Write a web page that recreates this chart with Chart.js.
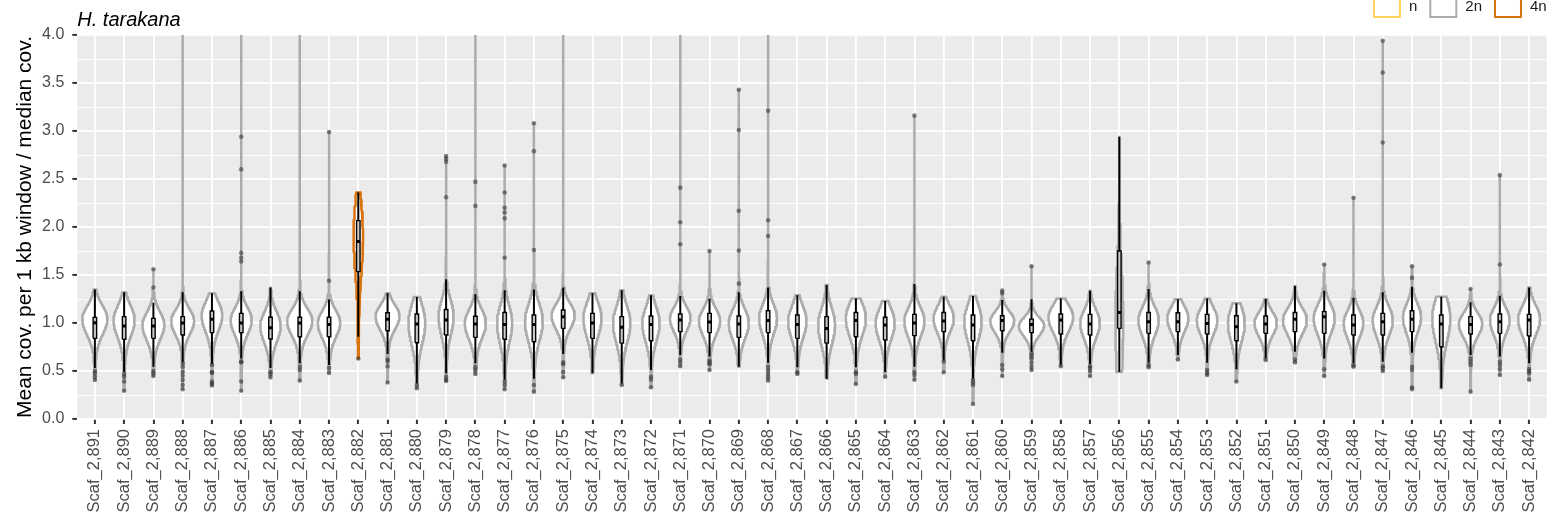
<!DOCTYPE html>
<html>
<head>
<meta charset="utf-8">
<script src="https://cdn.jsdelivr.net/npm/chart.js@4.4.1/dist/chart.umd.min.js"></script>
<style>
  html, body { margin: 0; padding: 0; background: #ffffff; overflow: hidden; }
  canvas { display: block; }
</style>
</head>
<body>
<canvas id="coverage" width="1554" height="530"></canvas>
<script>
// Per-scaffold coverage summaries (mean coverage per 1 kb window / median coverage)
const scaffolds = [
  'Scaf_2,891','Scaf_2,890','Scaf_2,889','Scaf_2,888','Scaf_2,887','Scaf_2,886','Scaf_2,885','Scaf_2,884','Scaf_2,883','Scaf_2,882',
  'Scaf_2,881','Scaf_2,880','Scaf_2,879','Scaf_2,878','Scaf_2,877','Scaf_2,876','Scaf_2,875','Scaf_2,874','Scaf_2,873','Scaf_2,872',
  'Scaf_2,871','Scaf_2,870','Scaf_2,869','Scaf_2,868','Scaf_2,867','Scaf_2,866','Scaf_2,865','Scaf_2,864','Scaf_2,863','Scaf_2,862',
  'Scaf_2,861','Scaf_2,860','Scaf_2,859','Scaf_2,858','Scaf_2,857','Scaf_2,856','Scaf_2,855','Scaf_2,854','Scaf_2,853','Scaf_2,852',
  'Scaf_2,851','Scaf_2,850','Scaf_2,849','Scaf_2,848','Scaf_2,847','Scaf_2,846','Scaf_2,845','Scaf_2,844','Scaf_2,843','Scaf_2,842'
];

const ploidy = [
  '2n','2n','2n','2n','2n','2n','2n','2n','2n','4n',
  '2n','2n','2n','2n','2n','2n','2n','2n','2n','2n',
  '2n','2n','2n','2n','2n','2n','2n','2n','2n','2n',
  '2n','2n','2n','2n','2n','2n','2n','2n','2n','2n',
  '2n','2n','2n','2n','2n','2n','2n','2n','2n','2n'
];

const whiskerLow = [
  0.53, 0.49, 0.545, 0.59, 0.57, 0.63, 0.53, 0.58, 0.5625, 0.857,
  0.677, 0.37, 0.476, 0.58, 0.41, 0.42, 0.677, 0.476, 0.37, 0.51,
  0.667, 0.65, 0.545, 0.587, 0.54, 0.42, 0.54, 0.49, 0.545, 0.61,
  0.42, 0.69, 0.70, 0.5625, 0.573, 0.49, 0.587, 0.667, 0.587, 0.517,
  0.63, 0.70, 0.63, 0.58, 0.597, 0.69, 0.32, 0.667, 0.65, 0.58
];
const lowerQuartile = [
  0.84, 0.83, 0.84, 0.875, 0.90, 0.90, 0.833, 0.857, 0.857, 1.535,
  0.92, 0.795, 0.875, 0.85, 0.83, 0.805, 0.944, 0.84, 0.79, 0.815,
  0.91, 0.90, 0.85, 0.90, 0.84, 0.79, 0.857, 0.823, 0.868, 0.91,
  0.815, 0.92, 0.90, 0.885, 0.875, 0.944, 0.892, 0.91, 0.885, 0.815,
  0.892, 0.91, 0.892, 0.875, 0.875, 0.91, 0.753, 0.885, 0.892, 0.865
];
const medians = [
  1.003, 0.97, 0.97, 1.0, 1.04, 1.0, 0.95, 1.0, 0.985, 1.85,
  1.04, 0.99, 1.03, 0.99, 0.985, 0.985, 1.066, 1.0, 0.955, 0.985,
  1.03, 1.01, 0.99, 1.025, 0.985, 0.944, 1.025, 0.98, 1.0, 1.02,
  0.98, 1.025, 0.985, 1.03, 0.99, 1.11, 1.014, 1.014, 0.996, 0.96,
  0.99, 1.04, 1.066, 0.98, 1.014, 1.04, 0.99, 0.985, 1.014, 1.03
];
const upperQuartile = [
  1.059, 1.066, 1.048, 1.066, 1.125, 1.10, 1.06, 1.06, 1.06, 2.066,
  1.107, 1.094, 1.14, 1.07, 1.11, 1.083, 1.135, 1.10, 1.066, 1.073,
  1.094, 1.10, 1.073, 1.128, 1.083, 1.066, 1.11, 1.06, 1.09, 1.11,
  1.083, 1.076, 1.04, 1.094, 1.09, 1.75, 1.11, 1.107, 1.09, 1.076,
  1.073, 1.11, 1.118, 1.083, 1.10, 1.128, 1.083, 1.066, 1.094, 1.09
];
const whiskerHigh = [
  1.35, 1.32, 1.21, 1.32, 1.31, 1.33, 1.37, 1.33, 1.245, 2.36,
  1.31, 1.27, 1.455, 1.30, 1.34, 1.35, 1.37, 1.31, 1.34, 1.29,
  1.28, 1.255, 1.32, 1.37, 1.29, 1.396, 1.255, 1.23, 1.406, 1.274,
  1.28, 1.24, 1.247, 1.255, 1.337, 2.94, 1.354, 1.247, 1.255, 1.205,
  1.25, 1.385, 1.337, 1.264, 1.32, 1.378, 1.274, 1.215, 1.285, 1.37
];

// Location of the density maximum and its height relative to the widest violin
const densityMode = [
  1.04, 1.03, 0.98, 1.02, 1.08, 1.03, 0.97, 1.02, 1.0, 1.92,
  1.07, 1.0, 1.07, 1.0, 1.0, 1.02, 1.08, 1.05, 1.0, 1.0,
  1.05, 1.02, 1.0, 1.05, 1.02, 0.98, 1.05, 1.0, 1.02, 1.05,
  1.02, 1.02, 0.97, 1.06, 1.0, 1.05, 1.03, 1.05, 1.03, 1.0,
  1.0, 1.03, 1.05, 1.0, 1.03, 1.06, 1.05, 0.99, 1.03, 1.04
];
const densityPeak = [
  1.0, 0.84, 0.87, 0.91, 0.82, 0.84, 0.81, 1.0, 0.89, 0.38,
  0.95, 0.67, 0.6, 0.84, 0.6, 0.71, 0.92, 0.72, 0.69, 0.69,
  0.82, 0.84, 0.8, 0.71, 0.73, 0.67, 0.8, 0.76, 0.8, 0.81,
  0.69, 0.95, 1.0, 0.98, 0.78, 0.31, 0.81, 0.84, 0.82, 0.67,
  0.89, 0.95, 0.84, 0.78, 0.8, 0.72, 0.72, 0.93, 0.78, 0.87
];

// Windows beyond the whiskers (values above 4 fall outside the visible range)
const outliers = [
  [0.50, 0.476, 0.44, 0.406],
  [0.47, 0.44, 0.39, 0.295],
  [1.56, 1.37, 0.50, 0.476, 0.448],
  [5.8, 0.58, 0.545, 0.49, 0.45, 0.406, 0.354, 0.31],
  [0.5625, 0.49, 0.48, 0.39, 0.37, 0.35],
  [4.9, 2.94, 2.60, 1.73, 1.68, 1.64, 0.60, 0.59, 0.39, 0.295],
  [0.49, 0.47, 0.434],
  [6.3, 0.545, 0.51, 0.40],
  [2.99, 1.44, 0.53, 0.48],
  [0.63],
  [0.62, 0.60, 0.55, 0.38],
  [0.354, 0.32],
  [2.74, 2.71, 2.68, 2.31, 0.44, 0.41, 0.396],
  [5.1, 2.47, 2.22, 0.54, 0.51, 0.47],
  [2.64, 2.36, 2.20, 2.15, 2.09, 1.68, 0.39, 0.354, 0.31],
  [3.08, 2.79, 1.76, 0.354, 0.285],
  [7.0, 0.59, 0.57, 0.49, 0.434],
  [],
  [0.354],
  [0.44, 0.41, 0.33],
  [4.7, 2.41, 2.05, 1.82, 0.62, 0.587, 0.55],
  [1.75, 0.61, 0.587, 0.57, 0.51],
  [3.43, 3.01, 2.17, 1.755, 1.41],
  [5.5, 3.21, 2.07, 1.906, 0.545, 0.51, 0.47, 0.434, 0.40],
  [0.49, 0.47],
  [],
  [0.49, 0.47, 0.365],
  [0.44],
  [3.16, 0.49, 0.458, 0.41],
  [0.60, 0.486],
  [0.406, 0.38, 0.354, 0.156],
  [1.337, 1.31, 0.5625, 0.517, 0.448],
  [1.59, 0.684, 0.656, 0.63, 0.587, 0.545, 0.51],
  [0.55],
  [0.55, 0.53, 0.50, 0.448],
  [],
  [1.63, 0.5625, 0.54],
  [0.62],
  [0.51, 0.48, 0.458],
  [0.39],
  [0.615],
  [0.62, 0.59],
  [1.61, 0.517, 0.448],
  [2.305, 0.5625, 0.545],
  [3.94, 3.61, 2.88, 0.55, 0.53, 0.50],
  [1.59, 1.47, 0.545, 0.51, 0.33, 0.31],
  [],
  [1.354, 0.63, 0.597, 0.5625, 0.285],
  [2.54, 1.61, 0.597, 0.5625, 0.52, 0.458],
  [0.52, 0.50, 0.476, 0.41]
];

const yGridValues = [0, 0.25, 0.5, 0.75, 1, 1.25, 1.5, 1.75, 2, 2.25, 2.5, 2.75, 3, 3.25, 3.5, 3.75, 4];
const ploidyLevels = ['n', '2n', '4n'];
const ploidyColors = { 'n': '#FFD35C', '2n': '#ABABAB', '4n': '#D9730D' };

const FONT = "'Liberation Sans', Arial, Helvetica, sans-serif";
Chart.defaults.font.family = FONT;

// ---- geometry helpers (x in category units, y in data units) ----
const VIOLIN_HALF = 0.43;   // half-width of the widest violin
const BOX_HALF = 0.06;      // half-width of the boxplot

function sampleRange(i) {
  return [Math.min(whiskerLow[i], ...outliers[i]), Math.max(whiskerHigh[i], ...outliers[i])];
}

function violinOutline(i) {
  const [lo, hi] = sampleRange(i);
  const iqr = upperQuartile[i] - lowerQuartile[i];
  const mode = densityMode[i];
  const half = VIOLIN_HALF * densityPeak[i];
  const sLow = 0.72 * iqr, sHigh = 0.62 * iqr;
  const width = y => {
    const below = y < mode;
    const s = below ? sLow : sHigh;
    const tail = below ? 0.12 : 0.05;
    const z = (y - mode) / s;
    return half * ((1 - tail) * Math.exp(-0.5 * z * z) + tail * Math.exp(-0.5 * (z / 2.3) * (z / 2.3)));
  };
  const ys = [];
  for (let y = lo; y < hi; y += (y > mode + 1 ? 0.05 : 0.01)) ys.push(y);
  ys.push(hi);
  const left = ys.map(y => ({ x: i - width(y), y }));
  const right = ys.slice().reverse().map(y => ({ x: i + width(y), y }));
  return left.concat(right, [left[0]]);
}

function boxOutline(i) {
  return [
    { x: i - BOX_HALF, y: lowerQuartile[i] },
    { x: i - BOX_HALF, y: upperQuartile[i] },
    { x: i + BOX_HALF, y: upperQuartile[i] },
    { x: i + BOX_HALF, y: lowerQuartile[i] },
    { x: i - BOX_HALF, y: lowerQuartile[i] }
  ];
}

const datasets = [];

// outlier windows (top layer)
datasets.push({
  type: 'scatter',
  label: 'outliers',
  data: outliers.flatMap((vals, i) => vals.map(v => ({ x: i, y: v }))),
  pointRadius: 2.3,
  pointHoverRadius: 2.3,
  pointBackgroundColor: 'rgba(45,45,45,0.55)',
  pointBorderWidth: 0,
  clip: 0,
  order: 0
});

// medians
datasets.push({
  type: 'line',
  label: 'median',
  data: scaffolds.flatMap((_, i) => [
    { x: i - BOX_HALF, y: medians[i] },
    { x: i + BOX_HALF, y: medians[i] },
    { x: i + BOX_HALF, y: null }
  ]),
  borderColor: '#000000',
  borderWidth: 3,
  borderCapStyle: 'butt',
  fill: false,
  spanGaps: false,
  clip: 0,
  order: 1
});

// boxes
scaffolds.forEach((_, i) => {
  datasets.push({
    type: 'line',
    label: 'box ' + scaffolds[i],
    data: boxOutline(i),
    borderColor: '#000000',
    borderWidth: 1.4,
    borderJoinStyle: 'miter',
    backgroundColor: '#C9C9C9',
    fill: 'shape',
    clip: 0,
    order: 2
  });
});

// whiskers
datasets.push({
  type: 'line',
  label: 'whiskers',
  data: scaffolds.flatMap((_, i) => [
    { x: i, y: whiskerLow[i] },
    { x: i, y: whiskerHigh[i] },
    { x: i, y: null }
  ]),
  borderColor: '#000000',
  borderWidth: 2,
  borderCapStyle: 'butt',
  fill: false,
  spanGaps: false,
  clip: 0,
  order: 3
});

// violins
scaffolds.forEach((_, i) => {
  datasets.push({
    type: 'line',
    label: 'violin ' + scaffolds[i],
    data: violinOutline(i),
    borderColor: ploidyColors[ploidy[i]],
    borderWidth: 2.5,
    borderJoinStyle: 'round',
    backgroundColor: '#FFFFFF',
    fill: 'shape',
    clip: 0,
    order: 4
  });
});

const isMajor = v => Math.abs(v * 2 - Math.round(v * 2)) < 1e-6;

const panelBackground = {
  id: 'panelBackground',
  beforeDraw(chart) {
    const { ctx, chartArea: a } = chart;
    ctx.save();
    ctx.fillStyle = '#EBEBEB';
    ctx.fillRect(a.left, a.top, a.right - a.left, a.bottom - a.top);
    ctx.restore();
  }
};

// ploidy key, right-aligned in the top band
const ploidyLegend = {
  id: 'ploidyLegend',
  afterDraw(chart) {
    const ctx = chart.ctx;
    ctx.save();
    ctx.font = '15px ' + FONT;
    ctx.textBaseline = 'alphabetic';
    ctx.lineWidth = 2;
    let cursor = chart.chartArea.right;
    for (let k = ploidyLevels.length - 1; k >= 0; k--) {
      const text = ploidyLevels[k];
      const w = ctx.measureText(text).width;
      const tx = cursor - w;
      ctx.fillStyle = '#1A1A1A';
      ctx.fillText(text, tx, 10.5);
      const boxLeft = tx - 9 - 26;
      ctx.fillStyle = '#FFFFFF';
      ctx.fillRect(boxLeft, -9, 26, 26);
      ctx.strokeStyle = ploidyColors[text];
      ctx.strokeRect(boxLeft, -9, 26, 26);
      cursor = boxLeft - 13;
    }
    ctx.restore();
  }
};

new Chart(document.getElementById('coverage'), {
  type: 'line',
  data: { datasets },
  plugins: [panelBackground, ploidyLegend],
  options: {
    responsive: false,
    animation: false,
    events: [],
    layout: { padding: { left: 0, right: 7.3, top: 0, bottom: 0 } },
    elements: {
      point: { radius: 0, hitRadius: 0, hoverRadius: 0 },
      line: { tension: 0 }
    },
    plugins: {
      legend: { display: false },
      tooltip: { enabled: false },
      title: {
        display: true,
        text: 'H. tarakana',
        align: 'start',
        fullSize: false,
        color: '#000000',
        font: { size: 20, style: 'italic', weight: 'normal' },
        padding: { top: 8.5, bottom: 2.5 }
      }
    },
    scales: {
      x: {
        type: 'linear',
        min: -0.6,
        max: 49.6,
        afterBuildTicks: axis => { axis.ticks = scaffolds.map((_, i) => ({ value: i })); },
        afterFit: axis => { axis.height = 111; },
        ticks: {
          autoSkip: false,
          minRotation: 90,
          maxRotation: 90,
          padding: 5,
          color: '#4D4D4D',
          font: { size: 16.5 },
          callback: v => scaffolds[v]
        },
        grid: {
          color: '#FFFFFF',
          lineWidth: 1.8,
          tickColor: '#333333',
          tickLength: 5,
          tickWidth: 2
        },
        border: { display: false }
      },
      y: {
        type: 'linear',
        min: 0,
        max: 4,
        afterBuildTicks: axis => { axis.ticks = yGridValues.map(v => ({ value: v })); },
        afterFit: axis => { axis.width = 77.3; },
        ticks: {
          padding: 8,
          color: '#4D4D4D',
          font: { size: 16 },
          callback: v => (isMajor(v) ? v.toFixed(1) : '')
        },
        grid: {
          color: '#FFFFFF',
          lineWidth: c => (c.tick && isMajor(c.tick.value) ? 1.8 : 0.9),
          tickColor: c => (c.tick && isMajor(c.tick.value) ? '#333333' : 'rgba(0,0,0,0)'),
          tickLength: 5,
          tickWidth: 2
        },
        border: { display: false },
        title: {
          display: true,
          text: 'Mean cov. per 1 kb window / median cov.',
          color: '#000000',
          font: { size: 21 },
          padding: { top: 13, bottom: 0 }
        }
      }
    }
  }
});
</script>
</body>
</html>
